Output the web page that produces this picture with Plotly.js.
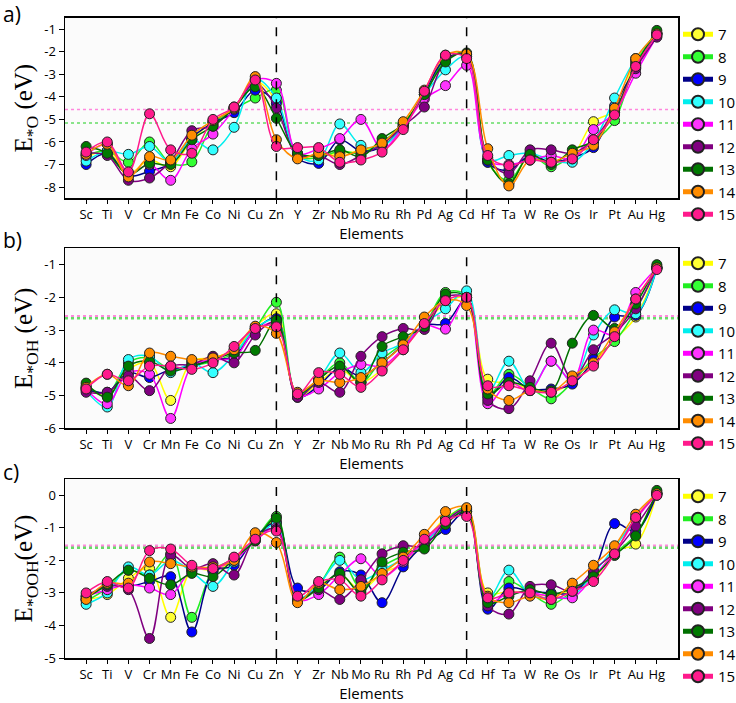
<!DOCTYPE html>
<html>
<head>
<meta charset="utf-8">
<script src="https://cdn.plot.ly/plotly-3.0.1.min.js"></script>
<style>html,body{margin:0;padding:0;background:#fff;}#chart{width:736px;height:703px;}</style>
</head>
<body>
<div id="chart"></div>
<script>
const elements = ['Sc','Ti','V','Cr','Mn','Fe','Co','Ni','Cu','Zn','Y','Zr','Nb','Mo','Ru','Rh','Pd','Ag','Cd','Hf','Ta','W','Re','Os','Ir','Pt','Au','Hg'];
const seriesNames = ['7','8','9','10','11','12','13','14','15'];

// Panel a) E*O
const O7  = [-6.7,-6.4,-7.4,-6.8,-7.1,-5.9,-5.1,-4.5,-3.3,-4.2,-6.6,-6.6,-6.5,-6.4,-6.1,-5.2,-3.8,-2.2,-2.1,-6.8,-7.8,-6.6,-6.9,-6.6,-5.1,-4.6,-2.4,-1.2];
const O8  = [-6.6,-6.4,-6.9,-6.0,-6.95,-6.88,-5.2,-4.55,-4.05,-3.7,-6.6,-6.7,-6.4,-6.5,-6.0,-5.2,-3.9,-2.35,-2.1,-6.9,-7.7,-6.6,-7.1,-6.6,-6.0,-5.05,-2.5,-1.2];
const O9  = [-7.0,-6.5,-7.5,-7.3,-6.95,-5.8,-5.15,-4.7,-3.7,-4.3,-6.7,-6.95,-5.9,-6.4,-6.2,-5.3,-3.8,-2.3,-2.2,-6.9,-7.25,-6.6,-6.9,-6.7,-6.25,-4.4,-2.7,-1.15];
const O10 = [-6.85,-6.4,-6.55,-6.2,-6.9,-5.9,-6.35,-5.35,-3.2,-4.05,-6.6,-6.8,-5.2,-6.15,-6.2,-5.3,-3.9,-2.8,-2.2,-6.8,-6.6,-6.5,-6.8,-6.9,-6.0,-4.05,-2.3,-1.2];
const O11 = [-6.6,-6.1,-7.4,-7.0,-7.7,-6.3,-5.65,-4.55,-3.25,-3.4,-6.5,-6.3,-5.85,-5.0,-6.3,-5.35,-4.1,-3.5,-2.6,-6.8,-7.0,-6.8,-6.6,-6.75,-5.45,-4.7,-2.95,-1.3];
const O12 = [-6.5,-6.6,-7.7,-7.6,-6.85,-5.5,-5.3,-4.45,-3.4,-4.5,-6.6,-6.6,-7.0,-6.6,-6.1,-5.3,-4.45,-2.4,-2.1,-6.7,-7.4,-6.35,-6.35,-6.5,-5.9,-4.6,-2.75,-1.35];
const O13 = [-6.2,-6.5,-7.45,-6.95,-7.0,-5.9,-5.3,-4.5,-3.55,-4.95,-6.5,-6.6,-6.35,-6.65,-5.85,-5.2,-3.9,-2.45,-2.05,-6.8,-7.85,-6.55,-7.0,-6.35,-5.95,-4.7,-2.6,-1.05];
const O14 = [-6.55,-6.1,-7.55,-6.65,-6.8,-5.7,-5.05,-4.5,-3.1,-5.9,-6.75,-6.5,-6.65,-6.35,-6.05,-5.1,-3.7,-2.15,-2.1,-6.3,-7.95,-6.8,-6.9,-6.5,-6.15,-4.5,-2.3,-1.2];
const O15 = [-6.45,-6.0,-7.33,-4.75,-6.35,-6.5,-5.0,-4.45,-3.25,-6.2,-6.25,-6.25,-6.9,-6.8,-6.45,-5.45,-3.75,-2.15,-2.3,-6.6,-7.05,-6.8,-6.9,-6.75,-5.9,-4.8,-2.65,-1.25];

// Panel b) E*OH
const OH7  = [-4.75,-5.0,-4.2,-4.0,-5.15,-3.95,-3.85,-3.6,-2.9,-2.5,-5.05,-4.6,-4.2,-4.6,-4.2,-3.6,-2.8,-2.2,-2.0,-4.5,-4.6,-4.8,-4.9,-4.6,-4.0,-3.3,-2.6,-1.1];
const OH8  = [-4.7,-4.95,-4.0,-3.85,-4.2,-4.1,-3.95,-3.7,-2.95,-2.15,-5.0,-4.5,-4.0,-4.6,-3.9,-3.4,-2.85,-1.85,-1.95,-5.0,-4.35,-4.75,-5.1,-4.6,-3.85,-3.35,-2.4,-1.05];
const OH9  = [-4.8,-4.9,-4.3,-4.45,-4.2,-4.1,-3.9,-3.8,-3.0,-2.65,-5.05,-4.7,-4.15,-4.4,-4.0,-3.45,-2.85,-2.8,-2.05,-5.05,-4.45,-4.8,-4.8,-4.65,-3.9,-2.6,-2.55,-1.1];
const OH10 = [-4.85,-5.35,-3.9,-3.8,-4.3,-4.0,-4.3,-3.75,-2.95,-2.7,-5.0,-4.5,-3.7,-4.3,-3.7,-3.4,-2.8,-2.35,-1.8,-4.9,-3.95,-4.8,-3.95,-4.55,-3.15,-2.38,-2.5,-1.1];
const OH11 = [-4.8,-5.25,-4.3,-4.35,-5.7,-4.1,-3.9,-3.85,-3.0,-2.8,-5.0,-4.8,-4.3,-4.05,-4.1,-3.55,-2.85,-2.97,-2.0,-5.25,-4.6,-4.85,-3.95,-4.55,-3.0,-3.15,-1.85,-1.1];
const OH12 = [-4.9,-4.9,-4.4,-4.85,-4.1,-4.05,-3.8,-4.0,-3.15,-2.75,-5.05,-4.6,-4.9,-3.8,-3.2,-2.95,-2.98,-2.0,-2.05,-5.15,-5.4,-4.55,-3.4,-4.5,-3.6,-3.1,-2.35,-1.1];
const OH13 = [-4.62,-5.05,-4.1,-3.95,-4.25,-4.1,-3.9,-3.7,-3.62,-2.7,-4.95,-4.5,-4.1,-4.6,-3.5,-3.2,-2.9,-1.9,-2.0,-4.95,-4.6,-4.75,-4.85,-3.4,-2.55,-2.95,-2.2,-1.0];
const OH14 = [-4.75,-4.35,-4.7,-3.7,-3.8,-3.9,-3.85,-3.6,-2.88,-3.1,-4.9,-4.55,-4.6,-4.45,-4.0,-3.45,-2.6,-2.1,-2.25,-4.8,-5.15,-4.85,-4.9,-4.4,-4.0,-3.05,-2.05,-1.1];
const OH15 = [-4.8,-4.35,-4.55,-4.1,-4.1,-4.2,-4.0,-3.5,-2.95,-2.9,-4.95,-4.3,-4.35,-4.75,-4.25,-3.6,-2.8,-2.1,-2.0,-4.7,-4.7,-4.85,-4.9,-4.55,-4.1,-3.2,-2.05,-1.15];

// Panel c) E*OOH
const OOH7  = [-3.2,-3.05,-2.55,-2.25,-3.75,-2.3,-2.3,-2.0,-1.3,-0.8,-3.25,-2.8,-2.45,-2.9,-2.4,-2.1,-1.45,-0.7,-0.45,-3.0,-2.95,-3.0,-3.1,-2.9,-2.6,-1.7,-1.5,0.05];
const OOH8  = [-3.25,-2.85,-2.3,-2.45,-1.8,-3.75,-2.3,-1.95,-1.35,-0.65,-3.2,-2.75,-1.9,-2.85,-2.2,-1.85,-1.5,-0.75,-0.4,-3.2,-2.65,-3.0,-3.35,-2.95,-2.5,-1.8,-1.2,0.1];
const OOH9  = [-3.2,-2.75,-2.8,-2.65,-2.5,-4.2,-2.35,-2.15,-1.3,-0.85,-2.85,-2.9,-2.35,-2.45,-3.3,-2.2,-1.5,-1.05,-0.5,-3.5,-2.85,-2.95,-3.0,-3.0,-2.35,-0.87,-1.1,0.05];
const OOH10 = [-3.35,-3.0,-2.2,-2.45,-2.0,-2.35,-2.8,-2.05,-1.35,-0.9,-3.15,-2.75,-2.0,-2.6,-2.3,-1.95,-1.45,-0.85,-0.45,-3.2,-2.3,-3.05,-3.15,-3.1,-2.4,-1.6,-0.7,0.05];
const OOH11 = [-3.1,-2.9,-2.75,-2.85,-3.05,-2.3,-2.25,-2.0,-1.4,-1.0,-3.2,-3.05,-2.45,-1.95,-2.5,-2.05,-1.4,-0.85,-0.5,-3.3,-3.0,-3.0,-3.1,-3.15,-2.5,-1.75,-0.75,0.05];
const OOH12 = [-3.1,-2.8,-2.9,-4.4,-1.85,-2.25,-2.1,-2.45,-1.3,-1.05,-3.2,-2.9,-3.2,-2.6,-1.8,-1.55,-1.55,-0.8,-0.45,-3.4,-3.65,-2.8,-2.75,-2.95,-2.3,-1.75,-0.95,0.0];
const OOH13 = [-3.15,-2.75,-2.3,-2.55,-2.75,-2.4,-2.5,-1.95,-1.4,-0.7,-3.2,-2.85,-2.4,-3.0,-2.05,-1.75,-1.65,-0.9,-0.5,-3.3,-3.1,-2.9,-3.05,-2.85,-2.5,-1.85,-1.25,0.15];
const OOH14 = [-3.2,-2.7,-2.7,-2.05,-2.1,-2.2,-2.2,-2.0,-1.15,-1.45,-3.3,-2.7,-2.9,-2.8,-2.4,-1.9,-1.2,-0.5,-0.38,-3.1,-3.3,-3.1,-3.2,-2.7,-2.15,-1.55,-0.58,0.05];
const OOH15 = [-3.0,-2.65,-2.85,-1.7,-1.65,-2.15,-2.25,-1.9,-1.35,-1.1,-3.1,-2.65,-2.6,-3.1,-2.6,-2.0,-1.35,-0.8,-0.65,-3.15,-3.0,-3.0,-3.2,-2.95,-2.65,-1.8,-0.68,0.0];

// reference levels (dotted lines)
const refA = [-4.56, -5.16];
const refB = [-2.58, -2.64];
const refC = [-1.55, -1.61];

const yTicksA = [-1,-2,-3,-4,-5,-6,-7,-8];
const yTicksB = [-1,-2,-3,-4,-5,-6];
const yTicksC = [0,-1,-2,-3,-4,-5];

const lineColors   = ['#ffff00','#22ee22','#000088','#00eeee','#ff00ff','#800080','#007000','#ff8c00','#ff1a8c'];
const markerColors = ['#ffff33','#33ff33','#0000ff','#33ffff','#ff33ff','#800080','#007a00','#ff8c00','#ff1a8c'];

const panels = [
  {data:[O7,O8,O9,O10,O11,O12,O13,O14,O15], xa:'x', ya:'y', leg:'legend'},
  {data:[OH7,OH8,OH9,OH10,OH11,OH12,OH13,OH14,OH15], xa:'x2', ya:'y2', leg:'legend2'},
  {data:[OOH7,OOH8,OOH9,OOH10,OOH11,OOH12,OOH13,OOH14,OOH15], xa:'x3', ya:'y3', leg:'legend3'}
];

const traces = [];
panels.forEach(p => {
  p.data.forEach((vals, i) => {
    traces.push({
      type:'scatter', mode:'lines+markers',
      x: elements, y: vals,
      name: seriesNames[i],
      xaxis: p.xa, yaxis: p.ya, legend: p.leg,
      line:{color:lineColors[i], width:1.5, shape:'spline', smoothing:1},
      marker:{color:markerColors[i], size:10, line:{color:'#222', width:1}}
    });
  });
});

const tickFont = {family:'Open Sans, DejaVu Sans, sans-serif', size:13, color:'#000'};
function xAxis(anchor){
  return {anchor:anchor, domain:[0,1], type:'category', range:[-1,28],
    showline:true, linecolor:'#000', linewidth:1.5, mirror:true,
    ticks:'outside', ticklen:4, tickcolor:'#000', showgrid:false, zeroline:false,
    tickangle:0, tickfont:tickFont,
    title:{text:'Elements', font:{family:'Open Sans, DejaVu Sans, sans-serif', size:15, color:'#000'}, standoff:1}};
}
function yAxis(anchor, dom, rng, tv, title){
  return {anchor:anchor, domain:dom, range:rng, tickvals:tv, ticktext:tv.map(v=>String(v)),
    showline:true, linecolor:'#000', linewidth:1.5, mirror:true,
    ticks:'outside', ticklen:5, tickcolor:'#000', showgrid:false, zeroline:false,
    tickfont:tickFont,
    title:{text:title, font:{family:'Liberation Serif, Times New Roman, serif', size:25, color:'#000'}, standoff:4}};
}

function hline(yref, y, color, width){
  return {type:'line', xref:'paper', x0:0, x1:1, yref:yref, y0:y, y1:y,
    line:{color:color, width:width, dash:'dot'}, layer:'below'};
}
function vline(xref, yref, cat){
  return {type:'line', xref:xref, x0:cat, x1:cat, yref:yref+' domain', y0:0, y1:1,
    line:{color:'#000', width:1.5, dash:'dash'}};
}

const shapes = [
  hline('y', refA[0], '#ff88dd', 1.5), hline('y', refA[1], '#66dd66', 1.5),
  hline('y2', refB[0], '#ff88dd', 2.5), hline('y2', refB[1], '#66dd66', 2.5),
  hline('y3', refC[0], '#ff88dd', 2.5), hline('y3', refC[1], '#66dd66', 2.5),
  vline('x','y','Zn'), vline('x','y','Cd'),
  vline('x2','y2','Zn'), vline('x2','y2','Cd'),
  vline('x3','y3','Zn'), vline('x3','y3','Cd')
];

function legendAt(y){
  return {x:1.0, xanchor:'left', y:y, yanchor:'top', bgcolor:'rgba(0,0,0,0)',
    font:{family:'Open Sans, DejaVu Sans, sans-serif', size:15, color:'#000'}, tracegroupgap:0, itemsizing:'constant'};
}

const panelLabel = (txt, y) => ({text:txt, xref:'paper', yref:'paper', x:-0.104, y:y, xanchor:'left', yanchor:'middle',
  showarrow:false, font:{family:'Open Sans, DejaVu Sans, sans-serif', size:21, color:'#000'}});

const layout = {
  width:736, height:703,
  margin:{l:65, r:58, t:0, b:0, autoexpand:false},
  paper_bgcolor:'#ffffff', plot_bgcolor:'#fbfbfb',
  showlegend:true,
  xaxis: xAxis('y'), xaxis2: xAxis('y2'), xaxis3: xAxis('y3'),
  yaxis: yAxis('x', [0.7179, 0.9744], [-8.5, -0.5], yTicksA, 'E<sub>*O</sub> (eV)'),
  yaxis2: yAxis('x2', [0.3908, 0.6468], [-6, -0.5], yTicksB, 'E<sub>*OH</sub> (eV)'),
  yaxis3: yAxis('x3', [0.0640, 0.3186], [-5, 0.5], yTicksC, 'E<sub>*OOH</sub>(eV)'),
  legend: legendAt(0.9744), legend2: legendAt(0.6486), legend3: legendAt(0.3172),
  shapes: shapes,
  annotations:[panelLabel('a)', 0.980), panelLabel('b)', 0.658), panelLabel('c)', 0.328)]
};

Plotly.newPlot('chart', traces, layout, {displayModeBar:false, staticPlot:true});
</script>
</body>
</html>
